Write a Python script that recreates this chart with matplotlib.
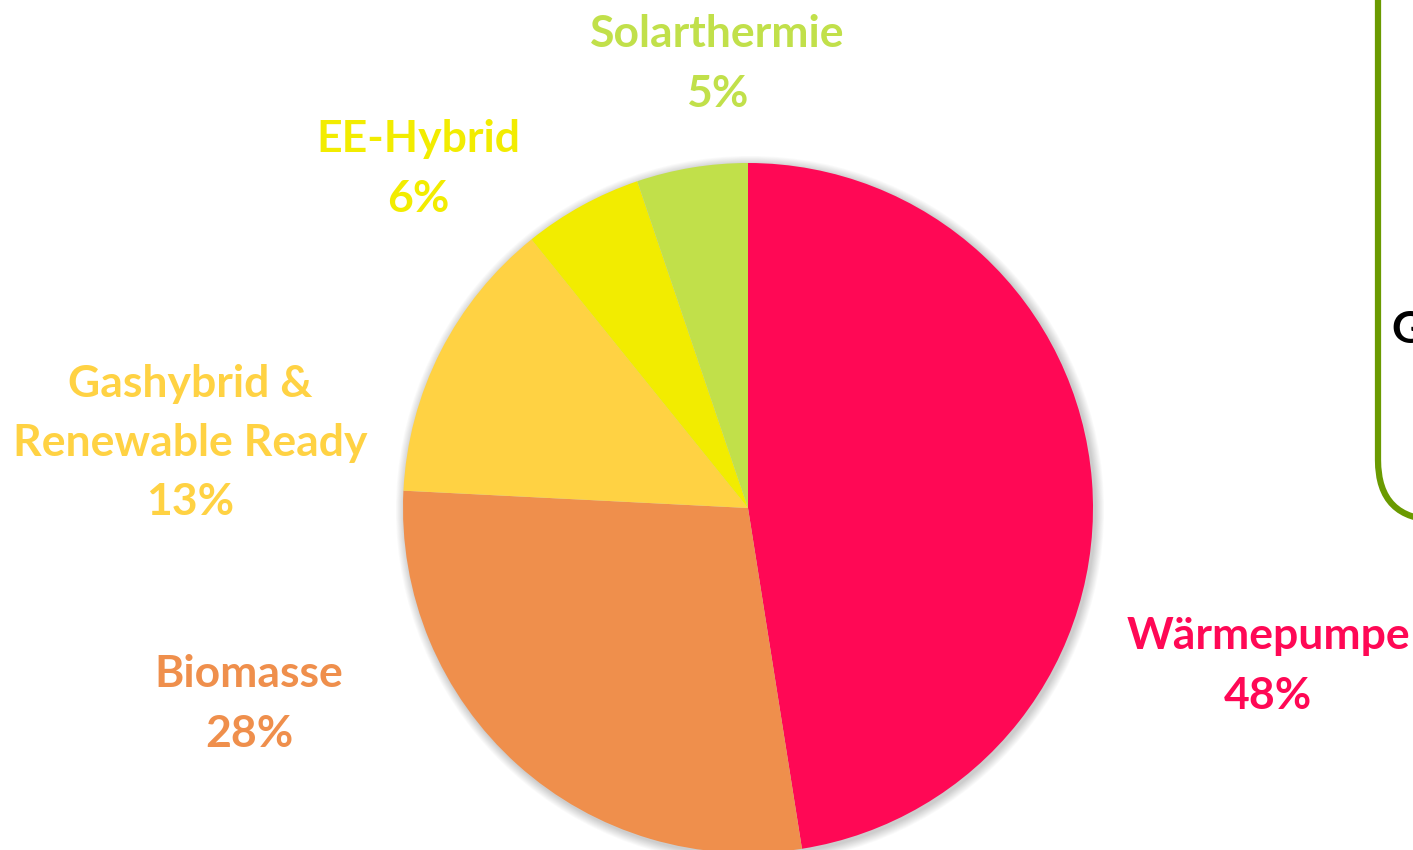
import matplotlib
matplotlib.use("Agg")
import matplotlib.pyplot as plt
from matplotlib.patches import Circle, FancyBboxPatch

categories = ["Wärmepumpe", "Biomasse", "Gashybrid &\nRenewable Ready", "EE-Hybrid", "Solarthermie"]
values = [47.5, 28.3, 13.4, 5.6, 5.2]
pct_labels = ["48%", "28%", "13%", "6%", "5%"]
colors = ["#FF0855", "#EF8F4C", "#FFD243", "#F2EC00", "#C1E04A"]

W, H = 1413, 850
fig = plt.figure(figsize=(W / 100, H / 100), dpi=100)
ax = fig.add_axes([0, 0, 1, 1])
ax.set_xlim(0, W)
ax.set_ylim(0, H)
ax.set_aspect("equal")
ax.axis("off")

cx, cy, r = 748, H - 508, 345

# soft shadow
for i in range(10):
    ax.add_patch(Circle((cx + 2, cy - 2), r + 1 + i * 0.9, color="black",
                        alpha=0.018, lw=0, zorder=1))

ax.pie(values, colors=colors, startangle=90, counterclock=False,
       center=(cx, cy), radius=r, frame=True,
       wedgeprops=dict(linewidth=0, zorder=2))
ax.set_xlim(0, W)
ax.set_ylim(0, H)
ax.axis("off")

label_pos = [(1268, 666), (249, 704), (190, 443), (418, 169), (717, 64)]
font = dict(family=["Lato", "DejaVu Sans"], fontweight="bold", fontsize=32)
for cat, pct, col, (x, y) in zip(categories, pct_labels, colors, label_pos):
    ax.text(x, H - y, f"{cat}\n{pct}", ha="center", va="center", color=col,
            linespacing=1.58, **font)

# green rounded box at right edge
ax.add_patch(FancyBboxPatch((1378, H - 520), 200, 700,
                            boxstyle="round,pad=0,rounding_size=60",
                            fill=False, edgecolor="#6A9A00", lw=4.5, zorder=3))
ax.text(1391, H - 330, "G", ha="left", va="center", color="black",
        family=["Lato", "DejaVu Sans"], fontweight="bold", fontsize=32)

fig.savefig("out.png", dpi=100)
